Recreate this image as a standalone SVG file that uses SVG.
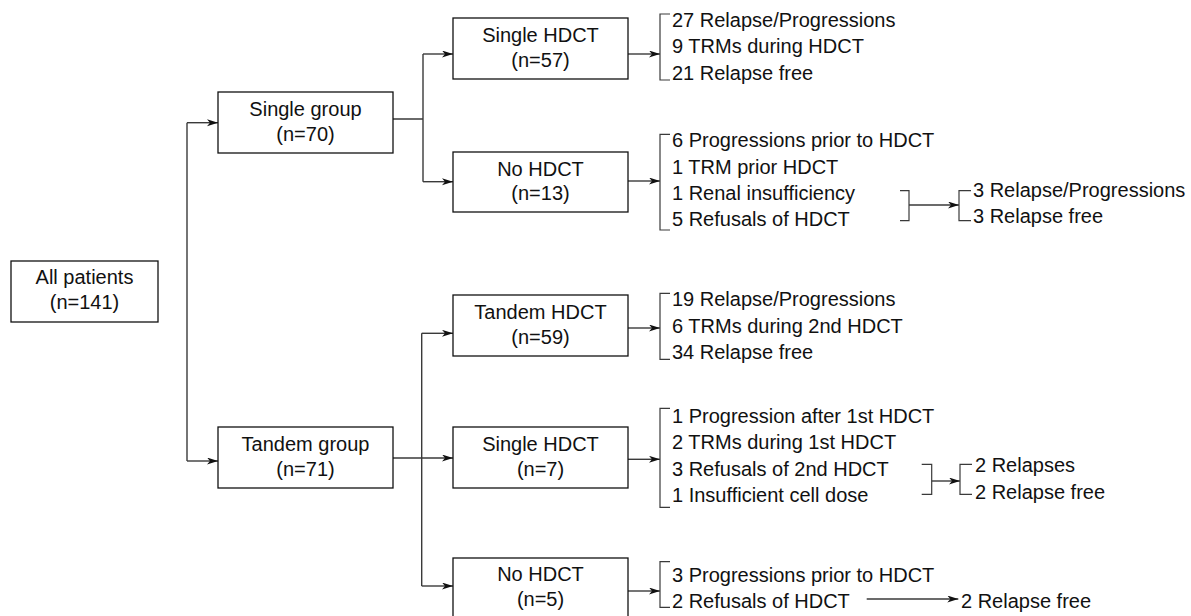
<svg xmlns="http://www.w3.org/2000/svg" width="1191" height="616" viewBox="0 0 1191 616">
<style>
  text { font-family: "Liberation Sans", Arial, Helvetica, sans-serif; font-size: 20px; fill: #111; }
  .c { text-anchor: middle; }
  .box { fill: #fff; stroke: #111; stroke-width: 1.3; }
  .ln { fill: none; stroke: #3a3a3a; stroke-width: 1.4; }
  .br { fill: none; stroke: #3a3a3a; stroke-width: 1.2; }
  .ar { fill: none; stroke: #3a3a3a; stroke-width: 1.4; marker-end: url(#ah); }
</style>
<defs>
  <marker id="ah" markerUnits="userSpaceOnUse" markerWidth="12" markerHeight="8" refX="11" refY="3.5" orient="auto">
    <path d="M0,0 L11,3.5 L0,7 L3,3.5 z" fill="#111"/>
  </marker>
</defs>

<g id="connectors">
  <!-- All patients split -->
  <path class="ln" d="M187,122.7 V461"/>
  <path class="ar" d="M187,122.7 H218"/>
  <path class="ar" d="M187,461 H218"/>
  <!-- Single group split -->
  <path class="ln" d="M393,119 H423 M423,54 V181.7"/>
  <path class="ar" d="M423,54 H453"/>
  <path class="ar" d="M423,181.7 H453"/>
  <!-- Tandem group split -->
  <path class="ln" d="M421.7,333.3 V586"/>
  <path class="ar" d="M393,458 H453"/>
  <path class="ar" d="M421.7,333.3 H453"/>
  <path class="ar" d="M421.7,586 H453"/>
  <!-- boxes to lists -->
  <path class="ar" d="M628,54 H660"/>
  <path class="ar" d="M628,181 H660"/>
  <path class="ar" d="M628,328 H660"/>
  <path class="ar" d="M628,459.3 H660"/>
  <path class="ar" d="M628,591 H660"/>
  <!-- list brackets -->
  <path class="br" d="M670,14 H660 V80 H670"/>
  <path class="br" d="M670,134.3 H660 V230 H670"/>
  <path class="br" d="M670,293.3 H660 V359.3 H670"/>
  <path class="br" d="M670,408.3 H660 V507.3 H670"/>
  <path class="br" d="M670,561.7 H660 V607.3 H670"/>
  <!-- secondary: single group no HDCT -->
  <path class="br" d="M900,190.7 H909 V220.7 H900"/>
  <path class="ar" d="M909,205 H959"/>
  <path class="br" d="M971,190.7 H959 V220.7 H971"/>
  <!-- secondary: tandem single HDCT -->
  <path class="br" d="M921.7,464.3 H931.7 V494.3 H921.7"/>
  <path class="ar" d="M931.7,481 H960"/>
  <path class="br" d="M972,464.3 H960 V494.3 H972"/>
  <!-- secondary: tandem no HDCT -->
  <path class="ar" d="M866.7,599 H958.3"/>
</g>

<g id="all-patients">
  <rect class="box" x="11" y="261" width="147" height="61"/>
  <text class="c" x="84.5" y="284">All patients</text>
  <text class="c" x="84.5" y="309">(n=141)</text>
</g>

<g id="single-group">
  <rect class="box" x="218" y="92" width="175" height="61"/>
  <text class="c" x="305.5" y="116">Single group</text>
  <text class="c" x="305.5" y="141">(n=70)</text>
</g>

<g id="tandem-group">
  <rect class="box" x="218" y="427" width="175" height="61"/>
  <text class="c" x="305.5" y="451">Tandem group</text>
  <text class="c" x="305.5" y="476">(n=71)</text>
</g>

<g id="single-hdct-1">
  <rect class="box" x="453" y="18" width="175" height="61"/>
  <text class="c" x="540.5" y="41.5">Single HDCT</text>
  <text class="c" x="540.5" y="66.5">(n=57)</text>
</g>

<g id="no-hdct-1">
  <rect class="box" x="453" y="152" width="175" height="60"/>
  <text class="c" x="540.5" y="175.5">No HDCT</text>
  <text class="c" x="540.5" y="200">(n=13)</text>
</g>

<g id="tandem-hdct">
  <rect class="box" x="453" y="295" width="175" height="61"/>
  <text class="c" x="540.5" y="318.5">Tandem HDCT</text>
  <text class="c" x="540.5" y="343.5">(n=59)</text>
</g>

<g id="single-hdct-2">
  <rect class="box" x="453" y="427" width="175" height="61"/>
  <text class="c" x="540.5" y="450.5">Single HDCT</text>
  <text class="c" x="540.5" y="475.5">(n=7)</text>
</g>

<g id="no-hdct-2">
  <rect class="box" x="453" y="558" width="175" height="61"/>
  <text class="c" x="540.5" y="581">No HDCT</text>
  <text class="c" x="540.5" y="606">(n=5)</text>
</g>

<g id="list-single-hdct-1">
  <text x="672" y="26.7">27 Relapse/Progressions</text>
  <text x="672" y="53.2">9 TRMs during HDCT</text>
  <text x="672" y="79.7">21 Relapse free</text>
</g>

<g id="list-no-hdct-1">
  <text x="672" y="147">6 Progressions prior to HDCT</text>
  <text x="672" y="173.5">1 TRM prior HDCT</text>
  <text x="672" y="200">1 Renal insufficiency</text>
  <text x="672" y="226">5 Refusals of HDCT</text>
</g>

<g id="outcome-no-hdct-1">
  <text x="973" y="196.7">3 Relapse/Progressions</text>
  <text x="973" y="223.3">3 Relapse free</text>
</g>

<g id="list-tandem-hdct">
  <text x="672" y="306">19 Relapse/Progressions</text>
  <text x="672" y="332.7">6 TRMs during 2nd HDCT</text>
  <text x="672" y="359.3">34 Relapse free</text>
</g>

<g id="list-single-hdct-2">
  <text x="672" y="422.7">1 Progression after 1st HDCT</text>
  <text x="672" y="449.3">2 TRMs during 1st HDCT</text>
  <text x="672" y="475.7">3 Refusals of 2nd HDCT</text>
  <text x="672" y="501.7">1 Insufficient cell dose</text>
</g>

<g id="outcome-single-hdct-2">
  <text x="975" y="471.7">2 Relapses</text>
  <text x="975" y="499">2 Relapse free</text>
</g>

<g id="list-no-hdct-2">
  <text x="672" y="581.7">3 Progressions prior to HDCT</text>
  <text x="672" y="608.3">2 Refusals of HDCT</text>
</g>

<g id="outcome-no-hdct-2">
  <text x="961" y="608">2 Relapse free</text>
</g>
</svg>
